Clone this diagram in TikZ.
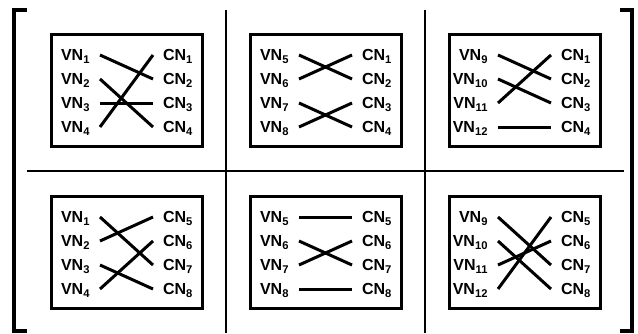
\documentclass[tikz,border=0pt]{standalone}
\usepackage{fontspec}
\setmainfont{Liberation Sans}
\tikzset{
  bracket/.style   = {line width=3.2pt, line join=miter},
  divider/.style   = {line width=1.5pt},
  panel box/.style = {draw, line width=3pt},
  link/.style      = {line width=3pt},
  port label/.style= {font=\bfseries\fontsize{16}{18}\selectfont,
                      inner xsep=10pt, inner ysep=0pt, outer sep=0pt,
                      text height=11.4pt, text depth=0pt},
  vn label/.style  = {port label, anchor=east},
  cn label/.style  = {port label, anchor=west},
}

\begin{document}
\begin{tikzpicture}[x=1pt, y=-1pt]
  \useasboundingbox (0,0) rectangle (638,333);

  % ── matrix brackets ──────────────────────────────────────────────
  \draw[bracket] (27,10) -- (14,10) -- (14,331) -- (27,331);
  \draw[bracket] (620,10) -- (632,10) -- (632,331) -- (620,331);

  % cell dividers
  \draw[divider] (226,10) -- (226,333);
  \draw[divider] (425,10) -- (425,333);
  \draw[divider] (27,171) -- (624,171);

  % ── one permutation block per cell: col/row/links (VN row -> CN row)
  \foreach \col/\row/\links in {
      0/0/{1/2,2/4,3/3,4/1},
      1/0/{1/2,2/1,3/4,4/3},
      2/0/{1/2,2/3,3/1,4/4},
      0/1/{1/3,2/1,3/4,4/2},
      1/1/{1/1,2/3,3/2,4/4},
      2/1/{1/3,2/4,3/2,4/1}}{
    \begin{scope}[shift={({51+199*\col},{34+162*\row})}, name prefix=p\col\row-]
      \draw[panel box] (0,0) rectangle (151,112);

      % VN / CN labels
      \foreach \i in {1,...,4}{
        \pgfmathtruncatemacro\vn{4*\col+\i}
        \pgfmathtruncatemacro\cn{4*\row+\i}
        \node[vn label] (v\i) at (49,{-3+24*\i}) {VN\textsubscript{\vn}};
        \node[cn label] (c\i) at (102,{-3+24*\i}) {CN\textsubscript{\cn}};
      }

      % edges
      \foreach \s/\t in \links
        \draw[link] (v\s.east) -- (c\t.west);
    \end{scope}
  }

\end{tikzpicture}
\end{document}
